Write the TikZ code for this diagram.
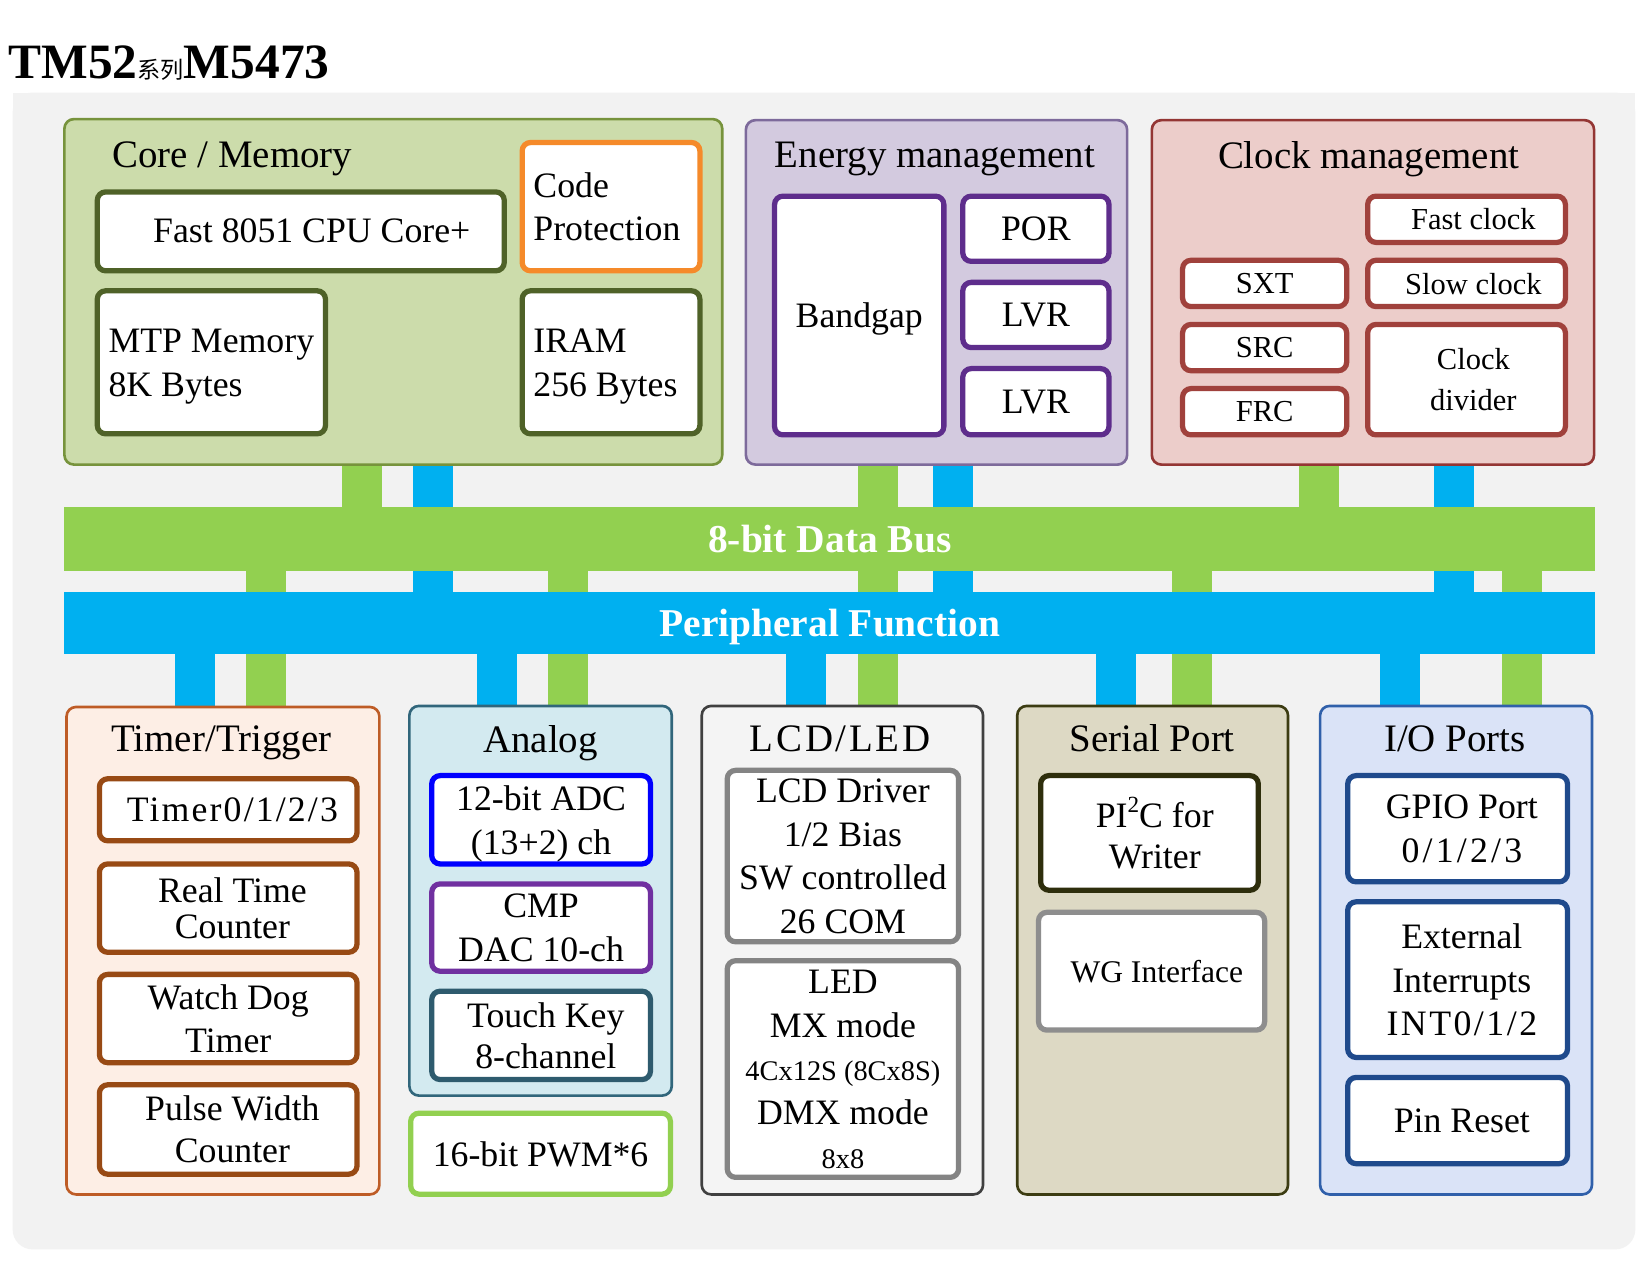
\documentclass[tikz,border=0pt]{standalone}
\usepackage{fontspec}
\setmainfont{Liberation Serif}
\newfontfamily\cjkfont{Noto Sans CJK SC}
\definecolor{bg}{HTML}{F2F2F2}
\definecolor{busgreen}{HTML}{92D050}
\definecolor{busblue}{HTML}{00B0F0}
\definecolor{coreFill}{HTML}{CCDCAB}
\definecolor{coreEdge}{HTML}{77933C}
\definecolor{coreBox}{HTML}{4F6228}
\definecolor{codeBox}{HTML}{F58A2A}
\definecolor{enFill}{HTML}{D3CADF}
\definecolor{enEdge}{HTML}{7D6A9B}
\definecolor{enBox}{HTML}{5E2D8C}
\definecolor{ckFill}{HTML}{ECCDCA}
\definecolor{ckEdge}{HTML}{943634}
\definecolor{ckBox}{HTML}{A0413C}
\definecolor{tmFill}{HTML}{FDEEE5}
\definecolor{tmEdge}{HTML}{BE5C26}
\definecolor{tmBox}{HTML}{984A14}
\definecolor{anFill}{HTML}{D3EAF0}
\definecolor{anEdge}{HTML}{31667B}
\definecolor{adcBox}{HTML}{0000FF}
\definecolor{cmpBox}{HTML}{7030A0}
\definecolor{tkBox}{HTML}{2E5B6E}
\definecolor{lcdFill}{HTML}{F4F4F4}
\definecolor{lcdEdge}{HTML}{404040}
\definecolor{lcdBox}{HTML}{848484}
\definecolor{spFill}{HTML}{DDD9C4}
\definecolor{spEdge}{HTML}{3C3C12}
\definecolor{spBox}{HTML}{2E2E0C}
\definecolor{wgBox}{HTML}{8E8E8E}
\definecolor{ioFill}{HTML}{DAE3F7}
\definecolor{ioEdge}{HTML}{3060AA}
\definecolor{ioBox}{HTML}{1F4A8C}
\newcommand\fsA{\fontsize{34}{41.5}\selectfont}
\newcommand\fsT{\fontsize{37}{44}\selectfont}
\newcommand\fsS{\fontsize{29}{39}\selectfont}
\newcommand\fsC{\fontsize{27}{41.5}\selectfont}
\newcommand\fsB{\bfseries\fontsize{37.5}{44}\selectfont}
\newcommand\spaced{\addfontfeature{LetterSpace=7}}
% panel: name, edge, fill, x1, y1, x2, y2
\newcommand\pnl[7]{\node[panel={#2}{#3}, minimum width={(#6)-(#4)-2.5}, minimum height={(#7)-(#5)-2.5}] (#1) at ({((#4)+(#6))/2},{((#5)+(#7))/2}) {};}
% inner box: name, edge, x1, y1, x2, y2, font, text
\newcommand\ibx[8]{\node[ibox=#2, font=#7, minimum width={(#5)-(#3)-5}, minimum height={(#6)-(#4)-5}] (#1) at ({((#3)+(#5))/2},{((#4)+(#6))/2}) {#8};}
\begin{document}
\begin{tikzpicture}[x=1pt,y=-1pt,
  panel/.style 2 args={draw=#1, fill=#2, line width=2.5pt, rounded corners=9pt, inner sep=0pt},
  ibox/.style={draw=#1, line width=5pt, fill=white, rounded corners=8pt, inner sep=0pt, align=center, text depth=0pt},
  txt/.style={inner sep=0pt, align=center, text depth=0pt},
  ttl/.style={txt, font=\fsT},
  gstub/.style={draw=busgreen, line width=38pt},
  bstub/.style={draw=busblue, line width=38pt},
  bus/.style={inner sep=0pt, text=white, font=\fsB, text depth=0pt}]
\useasboundingbox (0,0) rectangle (1568,1200);
\fill[white] (0,0) rectangle (1568,1200);
% title
\node[anchor=base west, inner sep=0pt] (title) at (8,75) {\fontsize{47}{50}\selectfont\bfseries TM52{\cjkfont\mdseries\fontsize{22}{22}\selectfont 系列}M5473};
% background (bottom corners rounded)
\fill[bg, rounded corners=19pt] (12,88) rectangle (1555,1188);
\fill[bg] (12,88) rectangle (1555,600);
\path (789,512.5) coordinate (dbc) (789,592.5) coordinate (pfc);
\coordinate (xg1) at (344,0);
\coordinate (xg2) at (834.5,0);
\coordinate (xg3) at (1254.5,0);
\coordinate (xb1) at (412,0);
\coordinate (xb2) at (906,0);
\coordinate (xb3) at (1383,0);
\coordinate (yg1) at (253,0);
\coordinate (yg2) at (540,0);
\coordinate (yg3) at (834.5,0);
\coordinate (yg4) at (1133,0);
\coordinate (yg5) at (1447,0);
\coordinate (yb1) at (185,0);
\coordinate (yb2) at (473,0);
\coordinate (yb3) at (766,0);
\coordinate (yb4) at (1061,0);
\coordinate (yb5) at (1331,0);
\coordinate (topy) at (0,440);
\coordinate (boty) at (0,673);
\coordinate (dbtop) at (0,482);
\coordinate (dbbot) at (0,543);
\coordinate (pftop) at (0,563);
\coordinate (pfbot) at (0,622);
% stubs
\draw[gstub] (xg1 |- topy) -- (xg1 |- dbtop);
\draw[gstub] (xg2 |- topy) -- (xg2 |- dbtop);
\draw[gstub] (xg3 |- topy) -- (xg3 |- dbtop);
\draw[bstub] (xb1 |- topy) -- (xb1 |- pftop);
\draw[bstub] (xb2 |- topy) -- (xb2 |- pftop);
\draw[bstub] (xb3 |- topy) -- (xb3 |- pftop);
\draw[gstub] (yg1 |- dbbot) -- (yg1 |- boty);
\draw[gstub] (yg2 |- dbbot) -- (yg2 |- boty);
\draw[gstub] (yg3 |- dbbot) -- (yg3 |- boty);
\draw[gstub] (yg4 |- dbbot) -- (yg4 |- boty);
\draw[gstub] (yg5 |- dbbot) -- (yg5 |- boty);
\draw[bstub] (yb1 |- pfbot) -- (yb1 |- boty);
\draw[bstub] (yb2 |- pfbot) -- (yb2 |- boty);
\draw[bstub] (yb3 |- pfbot) -- (yb3 |- boty);
\draw[bstub] (yb4 |- pfbot) -- (yb4 |- boty);
\draw[bstub] (yb5 |- pfbot) -- (yb5 |- boty);
% buses
\node[bus, fill=busgreen, minimum width=1456pt, minimum height=61pt] (databus) at (dbc) {8-bit Data Bus};
\node[bus, fill=busblue, minimum width=1456pt, minimum height=59pt] (periph) at (pfc) {Peripheral Function};
% ---------- top panels
\pnl{core}{coreEdge}{coreFill}{60}{112}{688}{443}
\pnl{energy}{enEdge}{enFill}{708}{113}{1073}{443}
\pnl{clock}{ckEdge}{ckFill}{1094}{113}{1517}{443}
\node[ttl] (coreT) at (221,147) {Core / Memory};
\node[ttl] (energyT) at (889,147) {Energy management};
\node[ttl] (clockT) at (1301.5,147) {Clock management};
% core boxes
\ibx{cpu}{coreBox}{90}{180}{482}{260}{\fsA}{}
\node[txt, font=\fsA] (cpuT) at (296.5,219) {Fast 8051 CPU Core+};
\ibx{code}{codeBox}{494}{133}{668}{260}{\fsA}{}
\node[txt, font=\fsA, align=left, anchor=west] (codeT) at (507,196.5) {Code\\Protection};
\ibx{mtp}{coreBox}{90}{274}{312}{415}{\fsA}{}
\node[txt, font=\fsA, align=left, anchor=west] (mtpT) at (103,345) {MTP Memory\\8K Bytes};
\ibx{iram}{coreBox}{494}{274}{668}{415}{\fsA}{}
\node[txt, font=\fsA, align=left, anchor=west] (iramT) at (507,345) {IRAM\\256 Bytes};
% energy boxes
\ibx{bandgap}{enBox}{734}{184}{900}{416}{\fsA}{Bandgap}
\ibx{por}{enBox}{913}{184}{1057}{251}{\fsA}{POR}
\ibx{lvr1}{enBox}{913}{266}{1057}{333}{\fsA}{LVR}
\ibx{lvr2}{enBox}{913}{348}{1057}{416}{\fsA}{LVR}
% clock boxes
\ibx{fast}{ckBox}{1298}{184}{1491}{233}{\fsS}{\hspace*{13pt}Fast clock}
\ibx{sxt}{ckBox}{1122}{245}{1283}{294}{\fsS}{SXT}
\ibx{slow}{ckBox}{1298}{245}{1491}{294}{\fsS}{\hspace*{13pt}Slow clock}
\ibx{src}{ckBox}{1122}{306}{1283}{355}{\fsS}{SRC}
\ibx{frc}{ckBox}{1122}{367}{1283}{416}{\fsS}{FRC}
\ibx{div}{ckBox}{1298}{306}{1491}{416}{\fsS}{\hspace*{13pt}Clock\\\hspace*{13pt}divider}
% ---------- bottom panels
\pnl{timer}{tmEdge}{tmFill}{62}{671}{362}{1137}
\pnl{analog}{anEdge}{anFill}{388}{670}{640}{1043}
\pnl{lcd}{lcdEdge}{lcdFill}{666}{670}{936}{1137}
\pnl{serial}{spEdge}{spFill}{966}{670}{1226}{1137}
\pnl{io}{ioEdge}{ioFill}{1254}{670}{1515}{1137}
\node[ttl] (timerT) at (210.5,702) {Timer/Trigger};
\node[ttl] (analogT) at (514,703) {Analog};
\node[ttl] (lcdT) at (799,702) {\spaced LCD/LED};
\node[ttl] (serialT) at (1095.5,702) {Serial Port};
\node[ttl] (ioT) at (1383.5,702) {I/O Ports};
% timer boxes
\ibx{t0}{tmBox}{92}{738}{342}{802}{\fsA}{\hspace*{8pt}{\addfontfeature{LetterSpace=6}Timer0/1/2/3}}
\ibx{rtc}{tmBox}{92}{819}{342}{908}{\fsA}{\hspace*{8pt}Real Time\\[-7pt]\hspace*{8pt}Counter}
\ibx{wdt}{tmBox}{92}{924}{342}{1013}{\fsA}{Watch Dog\\Timer}
\ibx{pwc}{tmBox}{92}{1029}{342}{1119}{\fsA}{\hspace*{8pt}Pulse Width\\[-1.5pt]\hspace*{8pt}Counter}
% analog boxes
\ibx{adc}{adcBox}{408}{735}{621}{824}{\fsA}{12-bit ADC\\(13+2) ch}
\ibx{cmp}{cmpBox}{408}{838}{621}{926}{\fsA}{CMP\\DAC 10-ch}
\ibx{tk}{tkBox}{408}{940}{621}{1029}{\fsA}{\hspace*{9pt}Touch Key\\[-2.5pt]\hspace*{9pt}8-channel}
\ibx{pwm}{busgreen}{388}{1056}{640}{1138}{\fsA}{16-bit PWM*6}
% lcd boxes
\ibx{lcddrv}{lcdBox}{689}{730}{914}{898}{\fsA}{LCD Driver\\1/2 Bias\\SW controlled\\26 COM}
\ibx{led}{lcdBox}{689}{911}{914}{1122}{\fsA}{LED\\MX mode\\{\fsC 4Cx12S (8Cx8S)}\\DMX mode\\{\fsC 8x8}}
% serial boxes
\ibx{pi2c}{spBox}{987}{735}{1199}{849}{\fsA}{\hspace*{10pt}PI\raisebox{0.42em}{\fontsize{22}{22}\selectfont 2}C for\\[-2.5pt]\hspace*{10pt}Writer}
\ibx{wg}{wgBox}{985}{865}{1205}{982}{\fontsize{30}{36}\selectfont}{\hspace*{10pt}WG Interface}
% io boxes
\ibx{gpio}{ioBox}{1279}{735}{1493}{841}{\fsA}{\hspace*{8pt}GPIO Port\\\hspace*{8pt}{\addfontfeature{LetterSpace=9}0/1/2/3}}
\ibx{ext}{ioBox}{1279}{855}{1493}{1008}{\fsA}{\hspace*{8pt}External\\\hspace*{8pt}Interrupts\\\hspace*{8pt}{\addfontfeature{LetterSpace=7}INT0/1/2}}
\ibx{pinrst}{ioBox}{1279}{1022}{1493}{1109}{\fsA}{\hspace*{8pt}Pin Reset}
\end{tikzpicture}
\end{document}
